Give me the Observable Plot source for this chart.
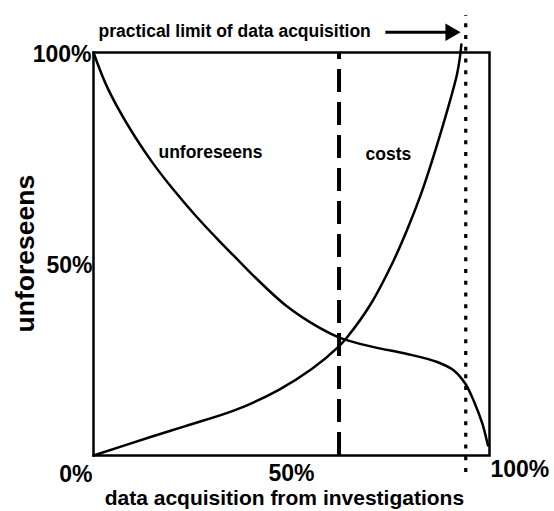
<!DOCTYPE html>
<html>
<head>
<meta charset="utf-8">
<script src="https://cdn.jsdelivr.net/npm/d3@7"></script>
<script src="https://cdn.jsdelivr.net/npm/@observablehq/plot@0.6"></script>
<style>
  html, body { margin: 0; padding: 0; background: #fff; }
  #chart svg { display: block; }
</style>
</head>
<body>
<div id="chart"></div>
<script>
// Curves (x: data acquisition %, y: %)
const unforeseensX = [0, 3.0, 6.4, 10.6, 14.8, 19.9, 25.8, 31.6, 35.9, 40.1, 48.5, 56.9, 62.8, 70.8, 79.2, 86.8, 91.0, 93.9, 96.0, 98.2, 99.6];
const unforeseensY = [100, 92.4, 85.8, 78.9, 72.8, 66.3, 59.5, 53.4, 49.1, 44.9, 37.3, 31.8, 29.0, 26.9, 25.2, 23.2, 21.1, 17.8, 13.6, 7.9, 2.5];
const costsX = [0, 14.8, 23.2, 35.9, 46.8, 55.2, 61.9, 64.1, 69.9, 75.8, 79.2, 82.6, 85.1, 87.6, 90.2, 91.8, 92.5, 92.9];
const costsY = [0, 4.7, 7.3, 11.3, 16.3, 21.5, 27.0, 29.4, 37.4, 48.4, 56.0, 64.6, 71.9, 79.8, 88.6, 94.6, 98.6, 102];

// Reference lines
const optimumX = [62];          // dashed line
const practicalLimitX = [94];   // dotted line

// Tick labels
const xTickValues = [0, 50, 100];
const xTickLabels = ["0%", "50%", "100%"];
const yTickValues = [50, 100];
const yTickLabels = ["50%", "100%"];

// Texts
const curveLabels = ["unforeseens", "costs"];
const curveLabelX = [16.4, 68.7];
const curveLabelY = [75.2, 74.7];
const annotationText = ["practical limit of data acquisition"];
const xTitle = ["data acquisition from investigations"];
const yTitle = ["unforeseens"];

const font = "'Liberation Sans', Arial, Helvetica, sans-serif";
const toRows = (xs, ys) => xs.map((x, i) => ({x, y: ys[i]}));
const unforeseens = toRows(unforeseensX, unforeseensY);
const costs = toRows(costsX, costsY);
const xTicks = xTickValues.map((v, i) => ({v, label: xTickLabels[i]}));
const yTicks = yTickValues.map((v, i) => ({v, label: yTickLabels[i]}));
const labels = curveLabels.map((t, i) => ({t, x: curveLabelX[i], y: curveLabelY[i]}));

const chart = Plot.plot({
  width: 554,
  height: 511,
  marginLeft: 93,
  marginRight: 65,
  marginTop: 52,
  marginBottom: 56,
  x: {domain: [0, 100], axis: null},
  y: {domain: [0, 100], axis: null},
  style: {fontFamily: font, background: "#fff", color: "#000"},
  marks: [
    Plot.frame({stroke: "#000", strokeWidth: 2.5}),
    Plot.ruleX(optimumX, {y1: 0, y2: 100, stroke: "#000", strokeWidth: 4, strokeDasharray: "23,10"}),
    Plot.ruleX(practicalLimitX, {y1: -4.2, y2: 109.2, stroke: "#000", strokeWidth: 3.2, strokeDasharray: "4,7.7"}),
    Plot.line(unforeseens, {x: "x", y: "y", curve: "catmull-rom", stroke: "#000", strokeWidth: 2.5}),
    Plot.line(costs, {x: "x", y: "y", curve: "catmull-rom", stroke: "#000", strokeWidth: 2.5}),
    Plot.text(labels, {x: "x", y: "y", text: "t", textAnchor: "start", fontSize: 17.5, fontWeight: "bold"}),
    // annotation with arrow
    Plot.text(annotationText, {x: 1.26, y: 105.2, text: d => d, textAnchor: "start", fontSize: 17.5, fontWeight: "bold"}),
    Plot.link([0], {x1: 73.7, x2: 89.5, y1: 105.0, y2: 105.0, stroke: "#000", strokeWidth: 3}),
    Plot.dot([0], {x: 90.15, y: 105.0, symbol: "triangle", r: 6.5, rotate: 90, fill: "#000", stroke: null}),
    // y tick labels
    Plot.text(yTicks.filter(d => d.v === 100), {x: 0, y: "v", text: "label", textAnchor: "end", dx: -2, dy: 2, fontSize: 23, fontWeight: "bold"}),
    Plot.text(yTicks.filter(d => d.v === 50), {x: 0, y: "v", text: "label", textAnchor: "end", dx: -1, dy: 11.5, fontSize: 23, fontWeight: "bold"}),
    // x tick labels
    Plot.text(xTicks.filter(d => d.v === 0), {x: "v", y: 0, text: "label", textAnchor: "end", dx: -1, dy: 19, fontSize: 23, fontWeight: "bold"}),
    Plot.text(xTicks.filter(d => d.v === 50), {x: "v", y: 0, text: "label", textAnchor: "middle", dy: 18, fontSize: 23, fontWeight: "bold"}),
    Plot.text(xTicks.filter(d => d.v === 100), {x: "v", y: 0, text: "label", textAnchor: "start", dx: 1, dy: 14.5, fontSize: 23, fontWeight: "bold"}),
    // axis titles
    Plot.text(xTitle, {x: 48.2, y: -10.57, text: d => d, textAnchor: "middle", fontSize: 21, fontWeight: "bold"}),
    Plot.text(yTitle, {x: -17.2, y: 50.1, text: d => d, textAnchor: "middle", rotate: -90, fontSize: 26.5, fontWeight: "bold"})
  ]
});
document.getElementById("chart").appendChild(chart);
</script>
</body>
</html>
